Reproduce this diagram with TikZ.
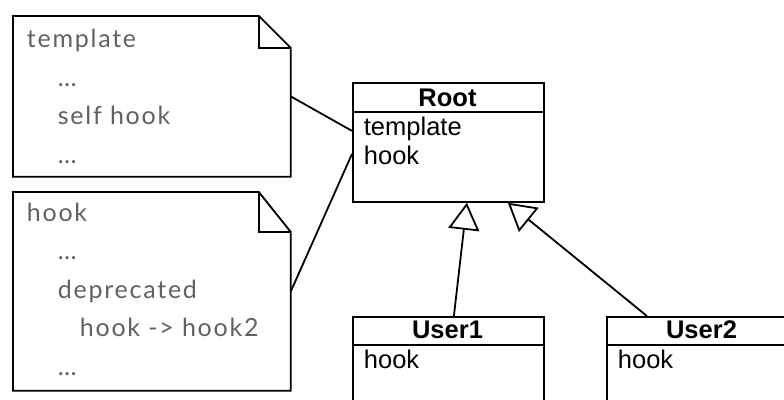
\documentclass[tikz,border=0pt]{standalone}
\usepackage{fontspec}
\setmainfont{Liberation Sans}
\newfontfamily\notefont[LetterSpace=7]{Lato}
\usetikzlibrary{arrows.meta,positioning}

\begin{document}
\begin{tikzpicture}[x=1pt,y=-1pt,line width=1.8pt,
  box/.style={draw,rectangle,inner sep=0pt,anchor=north west,minimum width=191pt},
  note/.style={rectangle,inner sep=0pt,anchor=north west,minimum width=276pt},
  notetext/.style={anchor=base west,align=left,inner sep=0pt,text=black!62,
    font=\notefont\fontsize{25}{38.5}\selectfont},
  clsname/.style={anchor=base,inner sep=0pt,font=\bfseries\fontsize{25.5}{25.5}\selectfont},
  attr/.style={anchor=base west,align=left,inner sep=0pt,font=\fontsize{25.5}{29}\selectfont},
  inherit/.style={-{Triangle[open,length=27pt,width=31pt]}}]
\useasboundingbox (0,0) rectangle (784,399);
\clip (0,0) rectangle (784,399);
%notes
\node[note,minimum height=159pt] (Note1) at (13,16) {};
\node[note,minimum height=197pt] (Note2) at (13,192) {};
\draw (Note1.north west) -- ([xshift=-32pt]Note1.north east) -- ([yshift=-32pt]Note1.north east)
  -- (Note1.south east) -- (Note1.south west) -- cycle;
\draw ([xshift=-32pt]Note1.north east) |- ([yshift=-32pt]Note1.north east);
\draw (Note2.north west) -- ([xshift=-32pt]Note2.north east) -- ([yshift=-40pt]Note2.north east)
  -- (Note2.south east) -- (Note2.south west) -- cycle;
\draw ([xshift=-32pt]Note2.north east) |- ([yshift=-40pt]Note2.north east);
\node[notetext] (Note1Text) at (26,163) {template\\\hspace*{31pt}…\\\hspace*{31pt}self hook\\\hspace*{31pt}…};
\node[notetext] (Note2Text) at (26,375) {hook\\\hspace*{31pt}…\\\hspace*{31pt}deprecated\\\hspace*{53pt}hook -> hook2\\\hspace*{31pt}…};
%classes
\node[box,minimum height=119pt] (Root) at (352,82) {};
\node[box,minimum height=120pt] (User1) at (352,316) {};
\node[box,minimum height=120pt] (User2) at (606,316) {};
\foreach \c/\h in {Root/30,User1/29,User2/29}
  \draw ([yshift=-\h pt]\c.north west) -- ([yshift=-\h pt]\c.north east);
\node[clsname] (RootName) at (447.5,106) {Root};
\node[clsname] (User1Name) at (447.5,338) {User1};
\node[clsname] (User2Name) at (701.5,338) {User2};
\node[attr] (RootAttr) at (363,164) {template\\hook};
\node[attr] (User1Attr) at (363,368) {hook};
\node[attr] (User2Attr) at (617,368) {hook};
\draw (Note1.east) -- ([yshift=11.5pt]Root.west);
\draw (Note2.east) -- ([yshift=-11.5pt]Root.west);
\draw[inherit] ([xshift=5.5pt]User1.north) -- ([xshift=18.5pt]Root.south);
\draw[inherit] ([xshift=-55.5pt]User2.north) -- ([xshift=59.5pt]Root.south);
\end{tikzpicture}
\end{document}
